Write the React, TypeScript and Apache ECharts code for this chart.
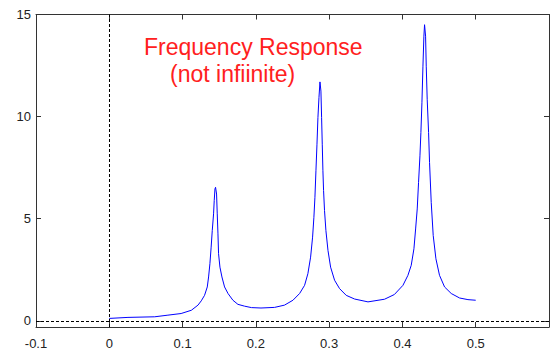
import React, { useEffect, useRef } from "react";
import * as echarts from "echarts";

const freq = [
  0, 0.0255, 0.062, 0.08, 0.098, 0.112, 0.121, 0.1255, 0.13, 0.1337, 0.1355, 0.1373, 0.139,
  0.1405, 0.1423, 0.1432, 0.1442, 0.145, 0.1464, 0.1473, 0.1483, 0.1491, 0.151, 0.1537,
  0.1573, 0.162, 0.1687, 0.1755, 0.1846, 0.194, 0.207, 0.2255, 0.239, 0.2506, 0.2597,
  0.2665, 0.271, 0.2747, 0.2774, 0.2792, 0.2806, 0.282, 0.2834, 0.2847, 0.2861, 0.2875,
  0.2888, 0.2897, 0.2906, 0.2915, 0.2924, 0.2937, 0.2956, 0.2984, 0.302, 0.3074, 0.3142,
  0.3233, 0.3347, 0.353, 0.3756, 0.389, 0.4007, 0.4075, 0.412, 0.4157, 0.418, 0.4202,
  0.422, 0.4239, 0.4252, 0.4266, 0.428, 0.4293, 0.4302, 0.4316, 0.4325, 0.4338, 0.4357,
  0.437, 0.4393, 0.442, 0.4457, 0.4506, 0.4575, 0.4666, 0.478, 0.4894, 0.5,
];
const magnitude = [
  0.12, 0.17, 0.2, 0.28, 0.36, 0.52, 0.77, 0.98, 1.25, 1.66, 2.15, 2.8, 3.61,
  4.42, 5.24, 5.89, 6.46, 6.54, 6.21, 5.24, 4.26, 3.29, 2.63, 2.15,
  1.66, 1.34, 1.01, 0.81, 0.72, 0.65, 0.63, 0.66, 0.77, 1.01, 1.34,
  1.74, 2.31, 3.12, 4.1, 5.07, 6.05, 7.35, 8.65, 9.95, 10.93, 11.7,
  11.25, 9.95, 8.65, 7.35, 6.38, 5.4, 4.42, 3.45, 2.63, 1.99, 1.58,
  1.25, 1.07, 0.93, 1.06, 1.29, 1.74, 2.23, 2.72, 3.53, 4.5, 5.48,
  6.78, 8.08, 9.22, 10.68, 12.47, 13.94, 14.5, 13.94, 12.47, 10.85, 9.22,
  7.76, 5.8, 4.18, 3.04, 2.23, 1.66, 1.34, 1.12, 1.04, 1.01,
];
const xTicks = [-0.1, 0, 0.1, 0.2, 0.3, 0.4, 0.5, 0.6];
const xLabels = [-0.1, 0, 0.1, 0.2, 0.3, 0.4, 0.5];
const yTicks = [0, 5, 10, 15];
const titleLines = ["Frequency Response", "(not infiinite)"];

const FONT = "'Liberation Sans', Arial, sans-serif";
const AXIS_COLOR = "#333";

export default function App() {
  const ref = useRef<HTMLDivElement>(null);
  useEffect(() => {
    if (!ref.current) return;
    const chart = echarts.init(ref.current, undefined, { renderer: "svg" });
    const tickStyle = { show: true, inside: true, length: 5, lineStyle: { color: AXIS_COLOR, width: 1 } };
    chart.setOption({
      animation: false,
      backgroundColor: "#fff",
      grid: { left: 28, right: 10, top: 5, bottom: 27, containLabel: false },
      xAxis: [
        {
          type: "value",
          min: -0.1,
          max: 0.6,
          interval: 0.1,
          splitLine: { show: false },
          axisLine: { show: true, onZero: false, lineStyle: { color: AXIS_COLOR, width: 1 } },
          axisTick: { ...tickStyle, customValues: xTicks },
          axisLabel: {
            customValues: xLabels,
            color: "#222",
            fontSize: 13,
            fontFamily: FONT,
            margin: 10,
            formatter: (v: number) => String(Math.round(v * 10) / 10),
          },
        },
        {
          type: "value",
          position: "top",
          min: -0.1,
          max: 0.6,
          interval: 0.1,
          splitLine: { show: false },
          axisLine: { show: true, onZero: false, lineStyle: { color: AXIS_COLOR, width: 1 } },
          axisTick: { ...tickStyle, customValues: xTicks },
          axisLabel: { show: false },
        },
      ],
      yAxis: [
        {
          type: "value",
          min: -0.3,
          max: 15,
          splitLine: { show: false },
          axisLine: { show: true, onZero: false, lineStyle: { color: AXIS_COLOR, width: 1 } },
          axisTick: { ...tickStyle, customValues: yTicks },
          axisLabel: {
            customValues: yTicks,
            color: "#222",
            fontSize: 13,
            fontFamily: FONT,
            margin: 5,
          },
        },
        {
          type: "value",
          position: "right",
          min: -0.3,
          max: 15,
          splitLine: { show: false },
          axisLine: { show: true, onZero: false, lineStyle: { color: AXIS_COLOR, width: 1 } },
          axisTick: { ...tickStyle, customValues: yTicks },
          axisLabel: { show: false },
        },
      ],
      series: [
        {
          type: "line",
          data: freq.map((f, i) => [f, magnitude[i]]),
          showSymbol: false,
          symbol: "none",
          lineStyle: { color: "#0000ff", width: 1 },
          markLine: {
            silent: true,
            symbol: "none",
            label: { show: false },
            lineStyle: { color: "#000", width: 1, type: [3, 2] },
            data: [{ xAxis: 0 }, { yAxis: 0 }],
          },
        },
      ],
      graphic: [
        {
          type: "text",
          left: 136,
          top: 27,
          style: { text: titleLines[0], fill: "#ff2020", font: `23px ${FONT}` },
        },
        {
          type: "text",
          left: 162,
          top: 54,
          style: { text: titleLines[1], fill: "#ff2020", font: `23px ${FONT}` },
        },
      ],
    });
    return () => chart.dispose();
  }, []);
  return <div ref={ref} style={{ width: 551, height: 346 }} />;
}
